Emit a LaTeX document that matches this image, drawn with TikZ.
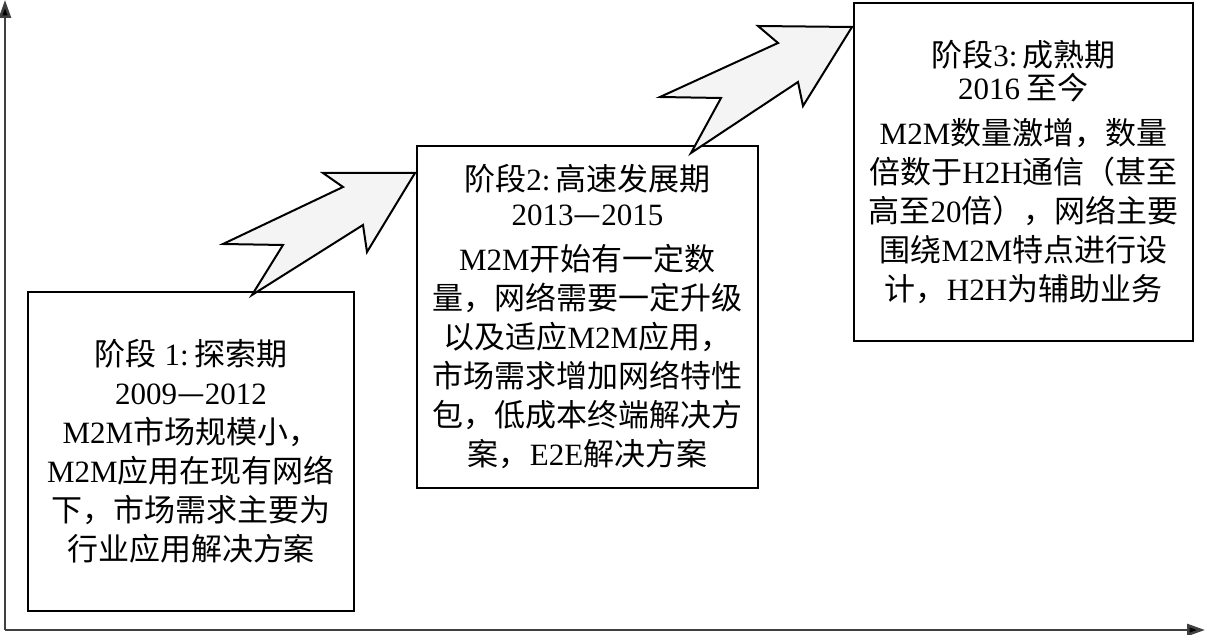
\documentclass[tikz,border=0pt]{standalone}
\usepackage{fontspec}
\setmainfont{Noto Sans CJK SC}
\newfontfamily\en{Liberation Serif}
\usetikzlibrary{arrows.meta}
\begin{document}
\begin{tikzpicture}[x=0.5pt,y=-0.5pt,
  box/.style={draw,line width=1.1pt,align=center,inner sep=0pt,font=\fontsize{15.5}{19.5}\selectfont},
  bigarrow/.style={draw,line width=1pt,fill=gray!9,line join=miter},
  axis/.style={line width=1.3pt,draw=black!75,-{Triangle[length=9pt,width=6pt,fill=black]}}]
\useasboundingbox (0,0) rectangle (1205,635);
\coordinate (o) at (5,630);
\coordinate (ytop) at (5,0);
\coordinate (xend) at (1205,630);
\draw[axis] (o) -- (ytop);
\draw[axis] (o) -- (xend);

\node[box, minimum width=163pt, minimum height=159.5pt] (b1) at (191,451.5) {%
阶段{\en\ 1:\,}探索期\\
{\en 2009}—{\en 2012}\\
{\en M2M}市场规模小，\\
{\en M2M}应用在现有网络\\
下，市场需求主要为\\
行业应用解决方案};

\node[box, minimum width=170.5pt, minimum height=171pt] (b2) at (587.5,317) {%
阶段{\en 2:\,}高速发展期\\[-2pt]
{\en 2013}—{\en 2015}\\[3pt]
{\en M2M}开始有一定数\\
量，网络需要一定升级\\
以及适应{\en M2M}应用，\\
市场需求增加网络特性\\
包，低成本终端解决方\\
案，{\en E2E}解决方案};

\node[box, minimum width=169.5pt, minimum height=169pt] (b3) at (1023.5,172) {%
阶段{\en 3:\,}成熟期\\[-3pt]
{\en 2016} 至今\\[3pt]
{\en M2M}数量激增，数量\\
倍数于{\en H2H}通信（甚至\\
高至{\en 20}倍），网络主要\\
围绕{\en M2M}特点进行设\\
计，{\en H2H}为辅助业务};

\draw[bigarrow] (415,173) -- (323,173) -- (343,187) -- (223,244) -- (283,245) -- (252,295) -- (363,225) -- (367,252) -- cycle;
\draw[bigarrow] (852,27) -- (758,26) -- (778,43) -- (660,97) -- (721,98) -- (691,153) -- (798,82) -- (803,106) -- cycle;
\end{tikzpicture}
\end{document}
